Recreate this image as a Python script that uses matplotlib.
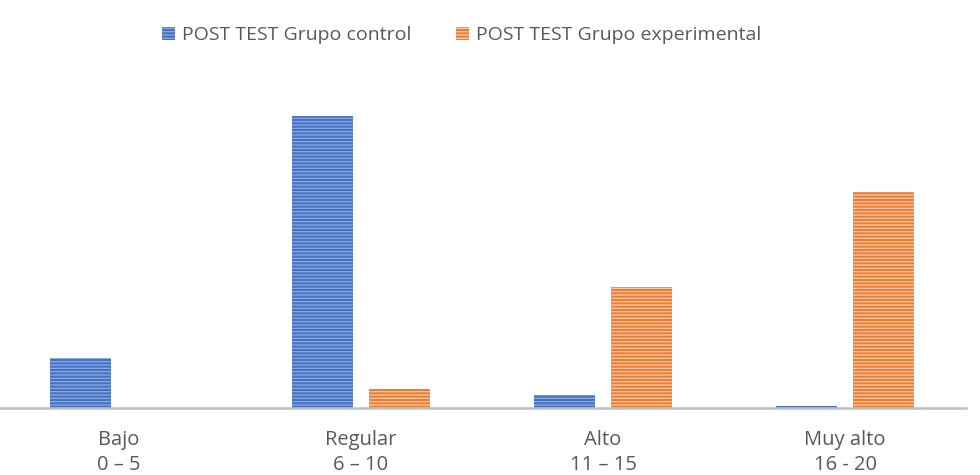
import matplotlib
matplotlib.use("Agg")
import matplotlib.pyplot as plt
import numpy as np

# data (percent of students per level)
categorias = ["Bajo\n0 – 5", "Regular\n6 – 10", "Alto\n11 – 15", "Muy alto\n16 - 20"]
control = [14.0, 82.0, 3.6, 0.6]
experimental = [0.0, 5.3, 34.0, 60.7]
series = ["POST TEST Grupo control", "POST TEST Grupo experimental"]

plt.rcParams['font.family'] = ['Open Sans', 'DejaVu Sans']
plt.rcParams['hatch.linewidth'] = 0.9

fig = plt.figure(figsize=(9.8, 4.75), dpi=100)
ax = fig.add_axes([-2 / 980, 1 - 408 / 475, 968 / 980, (408 - 80) / 475])

x = np.arange(len(categorias))
w = 0.256
off = 0.159
ax.bar(x - off, control, w, color="#4472C4", edgecolor="#8FAADC", linewidth=0,
       hatch="-----", label=series[0])
ax.bar(x + off, experimental, w, color="#ED7D31", edgecolor="#F8CBAD", linewidth=0,
       hatch="-----", label=series[1])

ax.set_xlim(-0.5, 3.5)
ax.set_ylim(0, 82.0 * 328 / 292)
ax.set_xticks(x)
ax.set_xticklabels(categorias, fontsize=14.5, color="#595959", linespacing=1.3)
ax.tick_params(axis="x", length=0, pad=16)
ax.set_yticks([])
for s in ["top", "right", "left"]:
    ax.spines[s].set_visible(False)
ax.spines["bottom"].set_color("#BFBFBF")
ax.spines["bottom"].set_linewidth(1.8)

leg = fig.legend(loc="center", bbox_to_anchor=(462 / 980, 1 - 35 / 475), ncol=2,
                 frameon=False, fontsize=14, handlelength=0.67, handleheight=0.67,
                 columnspacing=2.3, handletextpad=0.36)
for t in leg.get_texts():
    t.set_color("#595959")

fig.savefig("out.png", dpi=100)
